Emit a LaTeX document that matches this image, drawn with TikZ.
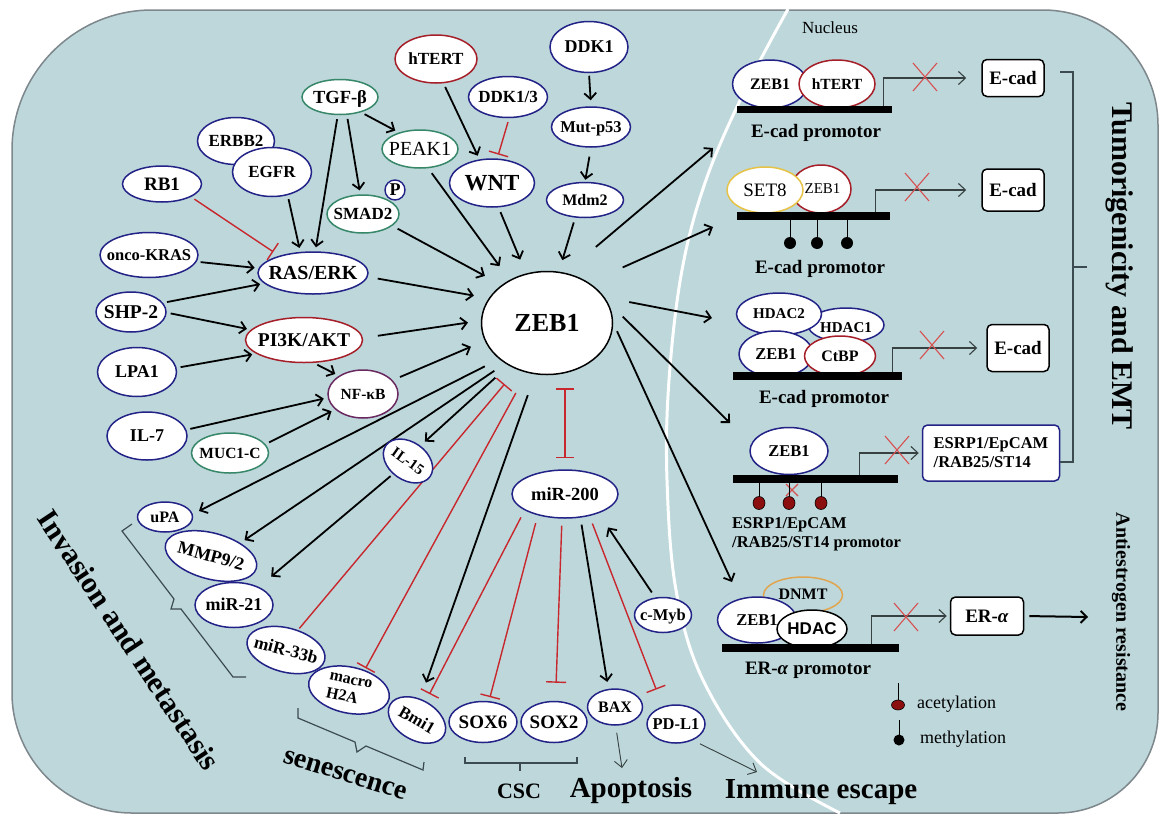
\documentclass[tikz,border=0pt]{standalone}
\usepackage{fontspec}
\setmainfont{Liberation Serif}
\newfontfamily\arialfont{Liberation Sans}
\usetikzlibrary{arrows.meta,shapes.geometric,calc}
\pgfdeclarelayer{cellL}
\pgfdeclarelayer{edgeL}
\pgfsetlayers{cellL,edgeL,main}
\definecolor{cellbg}{RGB}{189,215,219}
\definecolor{cellbd}{RGB}{125,135,140}
\definecolor{ndblue}{RGB}{35,35,135}
\definecolor{ndred}{RGB}{165,30,40}
\definecolor{ndgreen}{RGB}{55,135,105}
\definecolor{ndpurple}{RGB}{105,40,95}
\definecolor{ndyellow}{RGB}{230,195,70}
\definecolor{ndorange}{RGB}{225,165,80}
\definecolor{inhred}{RGB}{200,40,45}
\definecolor{xred}{RGB}{215,80,80}
\definecolor{brkcol}{RGB}{60,75,80}
\definecolor{lolred}{RGB}{140,15,15}
\definecolor{tsscol}{RGB}{55,65,65}
\newcommand{\zt}[1]{\makebox[0pt]{\smash{\raisebox{-0.33em}{#1}}}}
\newcommand{\fsz}[1]{\fontsize{#1}{#1}\selectfont}
\newcommand{\xmk}[1]{\draw[xm] #1 +(-12,-14) -- +(12,14) #1 +(-12,14) -- +(12,-14);}
\tikzset{
 nd/.style={ellipse, draw=ndblue, fill=white, line width=1.5pt, inner sep=0pt},
 barn/.style={rectangle, fill=black, inner sep=0pt},
 box/.style={rectangle, rounded corners=5pt, draw=black, fill=white, line width=1.5pt, inner sep=0pt, font=\bfseries\fsz{19}},
 act/.style={draw=black, line width=1.8pt, -{Straight Barb[length=6pt,width=12pt]}, shorten <=4pt, shorten >=4pt},
 inh/.style={draw=inhred, line width=1.4pt, -{Bar[width=20pt]}, shorten <=4pt, shorten >=4pt},
 mutual/.style={draw=inhred, line width=1.4pt, {Bar[width=18pt]}-{Bar[width=18pt]}},
 tss/.style={draw=tsscol, line width=1.1pt, -{Straight Barb[length=7pt,width=13pt]}},
 thinar/.style={draw=tsscol, line width=0.9pt, -{Straight Barb[length=7pt,width=13pt]}, shorten <=7pt},
 xm/.style={draw=xred, line width=1.1pt},
 brk/.style={draw=brkcol, line width=1.2pt},
 lbl/.style={inner sep=0pt},
}
\begin{document}
\begin{tikzpicture}[x=1pt,y=-1pt]
\useasboundingbox (0,0) rectangle (1161,814);
\begin{pgfonlayer}{cellL}
\fill[white] (0,0) rectangle (1161,814);
\filldraw[fill=cellbg, draw=cellbd, line width=1.5pt] (12,150) -- (12,693) .. controls (12,759) and (66,813) .. (132,813) -- (1058,813) .. controls (1113,813) and (1158,768) .. (1158,713) -- (1158,125) .. controls (1158,61.5) and (1106.5,10) .. (1043,10) -- (152,10) .. controls (75,10) and (12,73) .. (12,150) -- cycle;
\draw[white, line width=3pt] plot[smooth, tension=0.6] coordinates {(788,9) (745,90) (706,180) (682,270) (669,380) (667,480) (676,590) (703,680) (760,763) (840,813)};
\end{pgfonlayer}

% ---------- cytoplasm nodes ----------
\node[nd, draw=ndred, minimum width=82pt, minimum height=48pt, font=\bfseries\fsz{17}] (htert) at (436,59) {\zt{hTERT}};
\node[nd, minimum width=79pt, minimum height=41pt, font=\bfseries\fsz{17}] (ddk13) at (508,97) {\zt{DDK1/3}};
\node[nd, minimum width=78pt, minimum height=51pt, font=\bfseries\fsz{18}] (ddk1) at (589,47) {\zt{DDK1}};
\node[nd, minimum width=79pt, minimum height=40pt, font=\bfseries\fsz{16.5}] (mutp) at (591,127) {\zt{Mut-p53}};
\node[nd, minimum width=77pt, minimum height=35pt, font=\bfseries\fsz{16}] (mdm) at (585,200) {\zt{Mdm2}};
\node[nd, minimum width=85pt, minimum height=48pt, font=\bfseries\fsz{23}] (wnt) at (492,183) {\zt{WNT}};
\node[nd, draw=ndgreen, minimum width=76pt, minimum height=38pt, font=\fsz{20}] (peak) at (420,149) {\zt{PEAK1}};
\node[nd, draw=ndgreen, minimum width=76pt, minimum height=35pt, font=\bfseries\fsz{18.5}] (tgf) at (340,97) {\zt{TGF-β}};
\node[nd, minimum width=77pt, minimum height=47pt, font=\bfseries\fsz{17}] (erbb) at (236,141) {\zt{ERBB2}};
\node[nd, minimum width=79pt, minimum height=49pt, font=\bfseries\fsz{17}] (egfr) at (272,172) {\zt{EGFR}};
\node[nd, minimum width=79pt, minimum height=36pt, font=\bfseries\fsz{19}] (rb1) at (162,184) {\zt{RB1}};
\node[nd, draw=ndgreen, minimum width=72pt, minimum height=38pt, font=\bfseries\fsz{17}] (smad) at (363,214) {\zt{SMAD2}};
\node[circle, draw=ndblue, fill=white, line width=1.4pt, minimum size=20pt, inner sep=0pt, font=\bfseries\fsz{18}] (pp) at (395,190) {\zt{P}};
\node[nd, minimum width=98pt, minimum height=45pt, font=\bfseries\fsz{16.5}] (kras) at (149,255) {\zt{onco-KRAS}};
\node[nd, minimum width=110pt, minimum height=42pt, font=\bfseries\fsz{20}] (ras) at (313,273) {\zt{RAS/ERK}};
\node[nd, minimum width=70pt, minimum height=40pt, font=\bfseries\fsz{19.5}] (shp) at (131,312) {\zt{SHP-2}};
\node[nd, draw=ndred, minimum width=117pt, minimum height=45pt, font=\bfseries\fsz{19.5}] (pi3k) at (304,340) {\zt{PI3K/AKT}};
\node[nd, minimum width=79pt, minimum height=49pt, font=\bfseries\fsz{18}] (lpa) at (137,372) {\zt{LPA1}};
\node[nd, draw=ndpurple, minimum width=70pt, minimum height=48pt, font=\bfseries\fsz{15.5}] (nfkb) at (363,394) {\zt{NF-κB}};
\node[nd, minimum width=80pt, minimum height=48pt, font=\bfseries\fsz{18}] (il7) at (147,436) {\zt{IL-7}};
\node[nd, draw=ndgreen, minimum width=77pt, minimum height=40pt, font=\bfseries\fsz{15.5}] (muc) at (230,453) {\zt{MUC1-C}};
\node[nd, minimum width=54pt, minimum height=38pt, rotate=-35, font=\bfseries\fsz{15}] (il15) at (408,461) {\zt{IL-15}};
\node[nd, draw=black, minimum width=131pt, minimum height=103pt, font=\bfseries\fsz{26}] (zeb) at (547,323) {\zt{ZEB1}};
\node[nd, minimum width=106pt, minimum height=48pt, font=\bfseries\fsz{18.5}] (mir200) at (565,494) {\zt{miR-200}};
\node[nd, minimum width=57pt, minimum height=35pt, font=\bfseries\fsz{16.5}] (cmyb) at (663,615) {\zt{c-Myb}};

\node[nd, minimum width=55pt, minimum height=30pt, font=\bfseries\fsz{16}] (upa) at (165,517) {\zt{uPA}};
\node[nd, minimum width=94pt, minimum height=46pt, rotate=-15, font=\bfseries\fsz{18}] (mmp) at (211,556) {\zt{MMP9/2}};
\node[nd, minimum width=78pt, minimum height=45pt, font=\bfseries\fsz{18}] (mir21) at (234,605) {\zt{miR-21}};
\node[nd, minimum width=80pt, minimum height=44pt, rotate=-15, font=\bfseries\fsz{17.5}] (mir33) at (286,650) {\zt{miR-33b}};
\node[nd, minimum width=82pt, minimum height=46pt, rotate=-12, font=\bfseries\fontsize{16}{18}\selectfont] (macro) at (349,690) {\zt{\raisebox{0.1em}{\begin{tabular}{@{}l@{}}macro\\H2A\end{tabular}}}};
\node[nd, minimum width=62pt, minimum height=40pt, rotate=-30, font=\bfseries\fsz{17}] (bmi) at (417,720) {\zt{Bmi1}};
\node[nd, minimum width=68pt, minimum height=41pt, font=\bfseries\fsz{19}] (sox6) at (483,722) {\zt{SOX6}};
\node[nd, minimum width=66pt, minimum height=41pt, font=\bfseries\fsz{19}] (sox2) at (554,722) {\zt{SOX2}};
\node[nd, minimum width=55pt, minimum height=36pt, font=\bfseries\fsz{16}] (bax) at (615,707) {\zt{BAX}};
\node[nd, minimum width=58pt, minimum height=38pt, font=\bfseries\fsz{16.5}] (pdl1) at (676,724) {\zt{PD-L1}};

% ---------- nucleus panels ----------
\node[nd, minimum width=75pt, minimum height=48pt, font=\bfseries\fsz{16}] (p1zeb) at (770,84) {\zt{ZEB1}};
\node[nd, draw=ndred, minimum width=76pt, minimum height=48pt, font=\bfseries\fsz{15.5}] (p1ht) at (837,84) {\zt{hTERT}};
\node[barn, minimum width=155pt, minimum height=7pt] (bar1) at (814.5,109.5) {};
\node[box, minimum width=62pt, minimum height=37pt] (ecad1) at (1013,78) {E-cad};

\node[nd, draw=ndred, minimum width=60pt, minimum height=48pt, font=\fsz{15}] (p2zeb) at (821,189) {\hspace{3pt}\zt{ZEB1}};
\node[nd, draw=ndyellow, minimum width=76pt, minimum height=46pt, font=\fsz{19}] (set8) at (765,190) {\zt{SET8}};
\node[barn, minimum width=153pt, minimum height=8pt] (bar2) at (813.5,216) {};
\node[box, minimum width=62pt, minimum height=42pt] (ecad2) at (1013,190) {E-cad};

\node[nd, minimum width=76pt, minimum height=34pt, font=\bfseries\fsz{15}] (hdac1) at (846,325) {\zt{\raisebox{-3pt}{HDAC1}}};
\node[nd, minimum width=85pt, minimum height=42pt, font=\bfseries\fsz{15}] (hdac2) at (779,314) {\zt{HDAC2}};
\node[nd, minimum width=74pt, minimum height=46pt, font=\bfseries\fsz{16.5}] (p3zeb) at (776,354) {\zt{ZEB1}};
\node[nd, draw=ndred, minimum width=71pt, minimum height=40pt, font=\bfseries\fsz{16}] (ctbp) at (840,356) {\zt{CtBP}};
\node[barn, minimum width=169pt, minimum height=8pt] (bar3) at (817.5,376) {};
\node[box, minimum width=62pt, minimum height=47pt] (ecad3) at (1018,348) {E-cad};

\node[nd, minimum width=78pt, minimum height=47pt, font=\bfseries\fsz{16.5}] (p4zeb) at (789,451) {\zt{ZEB1}};
\node[barn, minimum width=165pt, minimum height=8pt] (bar4) at (815.5,479) {};
\node[box, draw=ndblue, minimum width=137pt, minimum height=56pt, align=left, font=\bfseries\fontsize{16.5}{19}\selectfont] (esrp) at (991,453) {ESRP1/EpCAM\\/RAB25/ST14};

\node[ellipse, draw=ndorange, line width=1.5pt, minimum width=79pt, minimum height=36pt, inner sep=0pt] (dnmt) at (803,595) {};
\node[nd, minimum width=79pt, minimum height=46pt, font=\bfseries\fsz{16.5}] (p5zeb) at (757,620) {\zt{ZEB1}};
\node[nd, draw=black, minimum width=70pt, minimum height=38pt, font=\arialfont\bfseries\fsz{17}] (hdac) at (812,629) {\zt{HDAC}};
\node[inner sep=0pt, font=\bfseries\fsz{16}] (dnmtl) at (803,594) {\zt{DNMT}};
\node[barn, minimum width=177pt, minimum height=8pt] (bar5) at (810.5,648) {};
\node[box, minimum width=73pt, minimum height=38pt] (era) at (987,616) {ER-\textit{α}};

% free ends
\coordinate (t1) at (713,148);
\coordinate (t2) at (713,227);
\coordinate (t3) at (712,318);
\coordinate (t4) at (730,423);
\coordinate (t5) at (732,582);
\coordinate (apopTip) at (622,768);
\coordinate (immTip) at (757,772);
\coordinate (eraTip) at (1088,617);

% ---------- labels ----------
\node[lbl, anchor=base, font=\fsz{17}] (lnuc) at (830,33) {Nucleus};
\node[lbl, anchor=base, font=\bfseries\fsz{19}] (lp1) at (816,137) {E-cad promotor};
\node[lbl, anchor=base, font=\bfseries\fsz{19}] (lp2) at (820,273) {E-cad promotor};
\node[lbl, anchor=base, font=\bfseries\fsz{19}] (lp3) at (824,403) {E-cad promotor};
\node[lbl, anchor=base west, font=\bfseries\fsz{16.5}] (lp4a) at (732,528) {ESRP1/EpCAM};
\node[lbl, anchor=base west, font=\bfseries\fsz{16.5}] (lp4b) at (732,547) {/RAB25/ST14 promotor};
\node[lbl, anchor=base, font=\bfseries\fsz{19}] (lp5) at (808,674) {ER-\textit{α} promotor};
\node[lbl, anchor=base west, font=\fsz{18}] (lac) at (917,708) {acetylation};
\node[lbl, anchor=base west, font=\fsz{18}] (lme) at (920,743) {methylation};
\node[lbl, rotate=-90, font=\bfseries\fsz{30}] (ltum) at (1120,266) {Tumorigenicity and EMT};
\node[lbl, rotate=-90, font=\bfseries\fsz{20}] (lanti) at (1121,612) {Antiestrogen resistance};
\node[lbl, rotate=-56.4, font=\bfseries\fsz{30}] (linv) at (129,640) {Invasion and metastasis};
\node[lbl, rotate=-17, font=\bfseries\fsz{28}] (lsen) at (345,775) {senescence};
\node[lbl, anchor=base, font=\bfseries\fsz{22}] (lcsc) at (519,798) {CSC};
\node[lbl, anchor=base, font=\bfseries\fsz{29}] (lapo) at (631,797) {Apoptosis};
\node[lbl, anchor=base, font=\bfseries\fsz{29}] (limm) at (821,798) {Immune escape};

% ---------- connectors ----------
\begin{pgfonlayer}{edgeL}
\draw[act] (htert.-73) -- (wnt.118);
\draw[inh] (ddk13.-87) -- (wnt.78);
\draw[act, shorten <=2.5pt, shorten >=6pt] (ddk1.south) -- (mutp.north);
\draw[act, shorten <=9pt, shorten >=2pt] (mutp.south) -- (mdm.north);
\draw[act] (tgf.-36) -- (peak.142);
\draw[act] (tgf.-69) -- (smad.98);
\draw[act] (tgf.-97) -- (ras.84);
\draw[act] (egfr.-56) -- (ras.121);
\draw[inh, shorten >=7pt] (rb1.-24) -- (ras.153);
\draw[act] (kras.-8) -- (ras.175);
\draw[act] (shp.16) -- (ras.192);
\draw[act] (shp.-1) -- (pi3k.169);
\draw[act] (lpa.6) -- (pi3k.196);
\draw[act] (pi3k.-67) -- (nfkb.143);
\draw[act] (il7.9) -- (nfkb.186);
\draw[act] (muc.14) -- (nfkb.209);
\draw[act, shorten <=10pt, shorten >=15pt] (ras.-4) -- (zeb.157);
\draw[act, shorten <=15pt, shorten >=13pt] (pi3k.2) -- (zeb.178);
\draw[act, shorten <=8pt, shorten >=15pt] (nfkb.25) -- (zeb.196);
\draw[act, shorten <=6pt, shorten >=19pt] (smad.-22) -- (zeb.140);
\draw[act, shorten <=6pt, shorten >=17pt] (peak.-67) -- (zeb.131);
\draw[act, shorten <=5pt, shorten >=15pt] (wnt.-75) -- (zeb.113);
\draw[act, shorten <=5pt, shorten >=12pt] (mdm.-119) -- (zeb.77);
% out of ZEB1 (left / bottom)
\draw[act, shorten <=16pt, shorten >=7pt] (zeb.-143) -- (upa.6);
\draw[act, shorten <=13pt, shorten >=5pt] (zeb.-136) -- (mmp.39);
\draw[act, shorten <=18pt, shorten >=6pt] (zeb.-132) -- (il15.86);
\draw[act, shorten <=3pt, shorten >=16pt] (il15.-104) -- (mir21.36);
\draw[inh, shorten <=2pt, shorten >=19pt] (mir33.74) -- (zeb.-123);
\draw[inh, shorten <=23pt, shorten >=2pt] (zeb.-112) -- (macro.64);
\draw[act, shorten <=22pt, shorten >=17pt] (zeb.-103) -- (bmi.111);
\draw[inh, shorten <=8pt, shorten >=8pt] (mir200.-158) -- (bmi.95);
\draw[mutual, shorten <=13pt, shorten >=11pt] (zeb.south -| mir200.north) -- (mir200.north);
\draw[inh, shorten <=8pt, shorten >=4pt] (mir200.-142) -- (sox6.74);
\draw[inh, shorten <=7pt, shorten >=18pt] (mir200.-97) -- (sox2.86);
\draw[act, shorten <=7pt, shorten >=7pt] (mir200.-57) -- (bax.110);
\draw[inh, shorten <=8pt, shorten >=18pt] (mir200.-42) -- (pdl1.127);
\draw[act, shorten <=6pt, shorten >=17pt] (cmyb.114) -- (mir200.-30);
\draw[thinar] (bax.-88) -- (apopTip);
\draw[thinar, shorten <=8pt] (pdl1.-44) -- (immTip);
% out of ZEB1 (right)
\draw[act, shorten <=40pt, shorten >=0pt] (zeb.70) -- (t1);
\draw[act, shorten <=37pt, shorten >=0pt] (zeb.44) -- (t2);
\draw[act, shorten <=25pt, shorten >=0pt] (zeb.24.5) -- (t3);
\draw[act, shorten <=22pt, shorten >=0pt] (zeb.20) -- (t4);
\draw[act, shorten <=9pt, shorten >=0pt] (zeb.0) -- (t5);
\end{pgfonlayer}

% transcription arrows
\draw[tss, shorten >=15pt] ([xshift=-9pt]bar1.north east) |- (ecad1.west);
\draw[tss, shorten >=15pt] ([xshift=-15pt]bar2.north east) |- (ecad2.west);
\draw[tss, shorten >=9pt] ([xshift=-10pt]bar3.north east) |- (ecad3.west);
\draw[tss, shorten >=3pt] ([xshift=-39pt]bar4.north east) |- (esrp.west);
\draw[tss, shorten >=3pt] ([xshift=-28pt]bar5.north east) |- (era.west);
\draw[act, line width=2pt, shorten <=5pt, shorten >=0pt] (era.east) -- (eraTip);
\xmk{(925,77)}
\xmk{(917,187)}
\xmk{(932,345)}
\xmk{(897,450)}
\xmk{(906,617)}
\draw[xm] (786,484) -- (798,496) (786,496) -- (798,484);

% lollipops
\foreach \lx in {790,817,847}{
  \draw[line width=1pt] (\lx,220) -- (\lx,238);
  \fill (\lx,243) circle (6pt);
}
\foreach \lx in {759,789,821}{
  \draw[line width=1pt] (\lx,483) -- (\lx,498);
  \filldraw[fill=lolred, draw=black, line width=0.6pt] (\lx,503) ellipse (6pt and 6.5pt);
}
\draw[line width=1pt] (898,683) -- (898,700);
\filldraw[fill=lolred, draw=black, line width=0.6pt] (898,705) ellipse (6.5pt and 5pt);
\draw[line width=1pt] (899,720) -- (899,735);
\fill (899,740) circle (5.5pt);

% brackets
\draw[brk] (1060,72) -- (1073,72) -- (1073,462) -- ([yshift=-9pt]esrp.east);
\draw[brk] (1073,267) -- (1087,267);
\draw[brk] (132,524) -- (122,531) -- (174,599) -- (171,609) -- (181,609) -- (233,677) -- (246,677);
\draw[brk] (298,708) -- (298,718) -- (355,742) -- (357,752) -- (366,746) -- (423,770) -- (424,762);
\draw[brk] (465,757) -- (465,763) -- (577,763) -- (577,757);
\draw[brk] (520,763) -- (520,771);
\end{tikzpicture}
\end{document}
